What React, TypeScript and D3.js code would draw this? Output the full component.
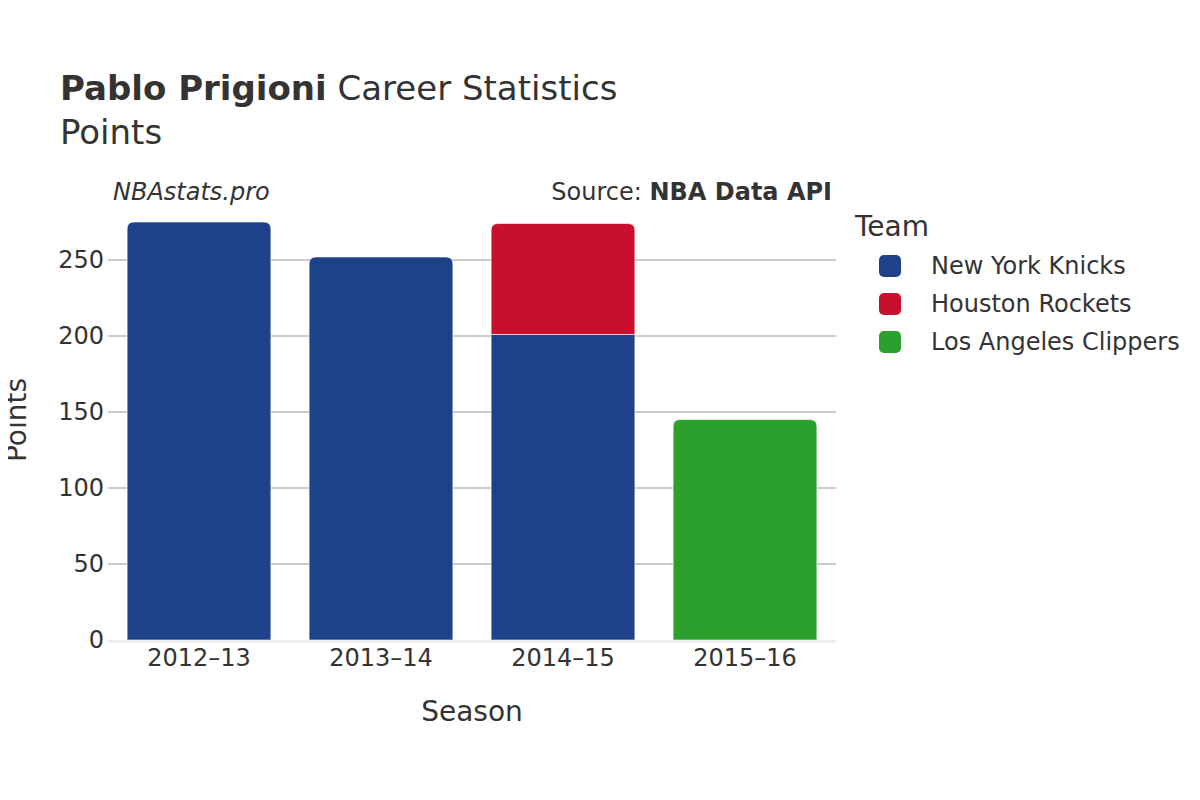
import React from 'react';
import * as d3 from 'd3';

const seasons = ['2012–13', '2013–14', '2014–15', '2015–16'];
const teams = ['New York Knicks', 'Houston Rockets', 'Los Angeles Clippers'];
const teamColors = ['#1d428a', '#c8102e', '#2ca02c'];
// points per season, per team
const knicksPts = [275, 252, 201, 0];
const rocketsPts = [0, 0, 73, 0];
const clippersPts = [0, 0, 0, 145];
const yTicks = [0, 50, 100, 150, 200, 250];

const W = 1200;
const H = 800;
const margin = { left: 108, right: 364, top: 205, bottom: 160 };
const FONT = 'DejaVu Sans, Verdana, sans-serif';
const TXT = '#333333';

function topRounded(x: number, y: number, w: number, h: number, r: number) {
  const rr = Math.min(r, h, w / 2);
  return `M${x},${y + h}V${y + rr}Q${x},${y} ${x + rr},${y}H${x + w - rr}Q${x + w},${y} ${x + w},${y + rr}V${y + h}Z`;
}

export default function App() {
  const x = d3.scaleBand<string>().domain(seasons).range([margin.left, W - margin.right]).paddingInner(0.21).paddingOuter(0.105);
  // y(0)=640, y(250)=260
  const y = d3.scaleLinear().domain([0, 250]).range([H - margin.bottom, 260]);
  const series = [knicksPts, rocketsPts, clippersPts];
  const stack = seasons.map((_, i) => {
    let base = 0;
    return series.map((s, t) => {
      const seg = { team: t, y0: base, y1: base + s[i] };
      base += s[i];
      return seg;
    }).filter(sg => sg.y1 > sg.y0);
  });

  const plotL = margin.left;
  const plotR = W - margin.right;

  return (
    <svg width={W} height={H} style={{ display: 'block', margin: '-8px' }} fontFamily={FONT}>
      <rect width={W} height={H} fill="#fff" />
      <text x={60} y={100} fontSize={34} fill={TXT}>
        <tspan fontWeight="bold">Pablo Prigioni</tspan> Career Statistics
      </text>
      <text x={60} y={144} fontSize={34} fill={TXT}>Points</text>

      {yTicks.map(t => (
        <g key={t}>
          {t > 0 && <line x1={plotL} x2={plotR} y1={y(t)} y2={y(t)} stroke="#bbbbbb" strokeWidth={1.5} />}
          <text x={plotL - 4} y={y(t)} dy="0.35em" textAnchor="end" fontSize={24} fill={TXT}>{t}</text>
        </g>
      ))}

      {stack.map((segs, i) => segs.map((sg, k) => {
        const bx = x(seasons[i])!;
        const bw = x.bandwidth();
        const top = y(sg.y1);
        const h = y(sg.y0) - top;
        const isTop = k === segs.length - 1;
        const d = isTop ? topRounded(bx, top, bw, h, 7) : `M${bx},${top}h${bw}v${h}h${-bw}Z`;
        return <path key={`${i}-${k}`} d={d} fill={teamColors[sg.team]} stroke="#ffffff" strokeOpacity={0.6} strokeWidth={1} />;
      }))}

      <line x1={plotL} x2={plotR} y1={y(0) + 1.5} y2={y(0) + 1.5} stroke="#eeeeee" strokeWidth={3} />

      {seasons.map(s => (
        <text key={s} x={x(s)! + x.bandwidth() / 2} y={666} textAnchor="middle" fontSize={24} fill={TXT}>{s}</text>
      ))}

      <text x={472} y={721} textAnchor="middle" fontSize={28} fill={TXT}>Season</text>
      <text transform={`translate(26,420) rotate(-90)`} textAnchor="middle" fontSize={28} fill={TXT}>Points</text>

      <text x={113} y={200} fontSize={24} fontStyle="italic" fill={TXT}>NBAstats.pro</text>
      <text x={832} y={200} textAnchor="end" fontSize={24} fill={TXT}>
        Source: <tspan fontWeight="bold">NBA Data API</tspan>
      </text>

      <text x={855} y={236} fontSize={28} fill={TXT}>Team</text>
      {teams.map((t, i) => (
        <g key={t}>
          <rect x={879} y={255 + i * 38} width={22} height={22} rx={5} fill={teamColors[i]} />
          <text x={931} y={266 + i * 38} dy="0.35em" fontSize={24} fill={TXT}>{t}</text>
        </g>
      ))}
    </svg>
  );
}
